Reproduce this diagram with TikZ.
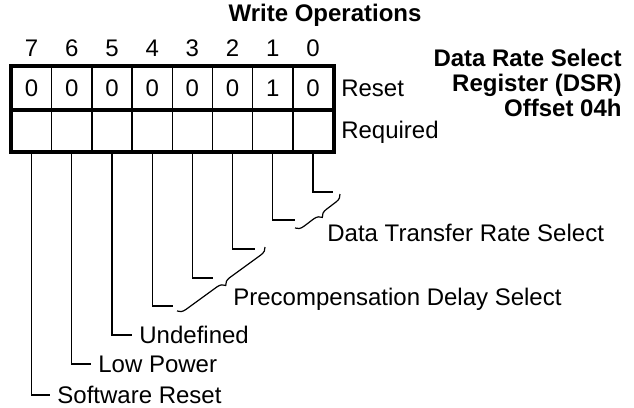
\documentclass[tikz,border=0pt]{standalone}
\usepackage{fontspec}
\setmainfont{Liberation Sans}
\usetikzlibrary{decorations.pathreplacing}

\begin{document}
\begin{tikzpicture}[x=0.5pt,y=-0.5pt,
  cell/.style={draw,line width=0.75pt,minimum width=20.1pt,minimum height=21pt,
               inner sep=0pt,font=\fontsize{12}{14}\selectfont},
  bitnum/.style={inner sep=0pt,font=\fontsize{12}{14}\selectfont},
  lbl/.style={anchor=west,inner sep=3.5pt,text height=8.6pt,text depth=0pt,
              font=\fontsize{12}{14}\selectfont},
  lead/.style={line width=0.6pt},
  brc/.style={line width=0.6pt,decorate,decoration={brace,amplitude=4pt}}]
\useasboundingbox (0,0) rectangle (634,408);
% title and register name
\node[bitnum,font=\fontsize{12}{14}\selectfont\bfseries](title) at (325,15) {Write Operations};
\node[anchor=north east,align=right,inner sep=0pt,
      font=\fontsize{12}{12.5}\selectfont\bfseries](reg) at (622,49)
      {Data Rate Select\\Register (DSR)\\Offset 04h};
% bit numbers
\node[bitnum](b7) at (31.6,48)  {7};
\node[bitnum](b6) at (71.8,48)  {6};
\node[bitnum](b5) at (112,48)   {5};
\node[bitnum](b4) at (152.2,48) {4};
\node[bitnum](b3) at (192.4,48) {3};
\node[bitnum](b2) at (232.6,48) {2};
\node[bitnum](b1) at (272.8,48) {1};
\node[bitnum](b0) at (313,48)   {0};
% reset row
\node[cell](r7) at (31.6,88)  {0};
\node[cell](r6) at (71.8,88)  {0};
\node[cell](r5) at (112,88)   {0};
\node[cell](r4) at (152.2,88) {0};
\node[cell](r3) at (192.4,88) {0};
\node[cell](r2) at (232.6,88) {0};
\node[cell](r1) at (272.8,88) {1};
\node[cell](r0) at (313,88)   {0};
% required row
\node[cell](q7) at (31.6,130)  {};
\node[cell](q6) at (71.8,130)  {};
\node[cell](q5) at (112,130)   {};
\node[cell](q4) at (152.2,130) {};
\node[cell](q3) at (192.4,130) {};
\node[cell](q2) at (232.6,130) {};
\node[cell](q1) at (272.8,130) {};
\node[cell](q0) at (313,130)   {};
\draw[line width=2pt](r7.north west) rectangle (q0.south east);
\draw[line width=2pt](r7.south west) -- (r0.south east);
\node[lbl](reset) at (r0.east) {Reset};
\node[lbl](req)   at (q0.east) {Required};
% bit descriptions
\node[lbl](swr)  at (50,395)  {Software Reset};
\node[lbl](lowp) at (91,364)  {Low Power};
\node[lbl](und)  at (132,335) {Undefined};
\node[lbl](pre)  at (226,297) {Precompensation Delay Select};
\node[lbl](dtr)  at (320,233) {Data Transfer Rate Select};
\coordinate(e4) at (173,306);
\coordinate(e3) at (213,278);
\coordinate(e2) at (255,249);
\coordinate(e1) at (295,220);
\coordinate(e0) at (333,192);
\draw[lead](q7.south) |- (swr.west);
\draw[lead](q6.south) |- (lowp.west);
\draw[lead](q5.south) |- (und.west);
\draw[lead](q4.south) |- (e4);
\draw[lead](q3.south) |- (e3);
\draw[lead](q2.south) |- (e2);
\draw[lead](q1.south) |- (e1);
\draw[lead](q0.south) |- (e0);
\coordinate(p1) at (265,247); \coordinate(p2) at (177,311);
\coordinate(d1) at (340,194); \coordinate(d2) at (295,228);
\draw[brc](p1) -- (p2);
\draw[brc](d1) -- (d2);
\end{tikzpicture}
\end{document}
